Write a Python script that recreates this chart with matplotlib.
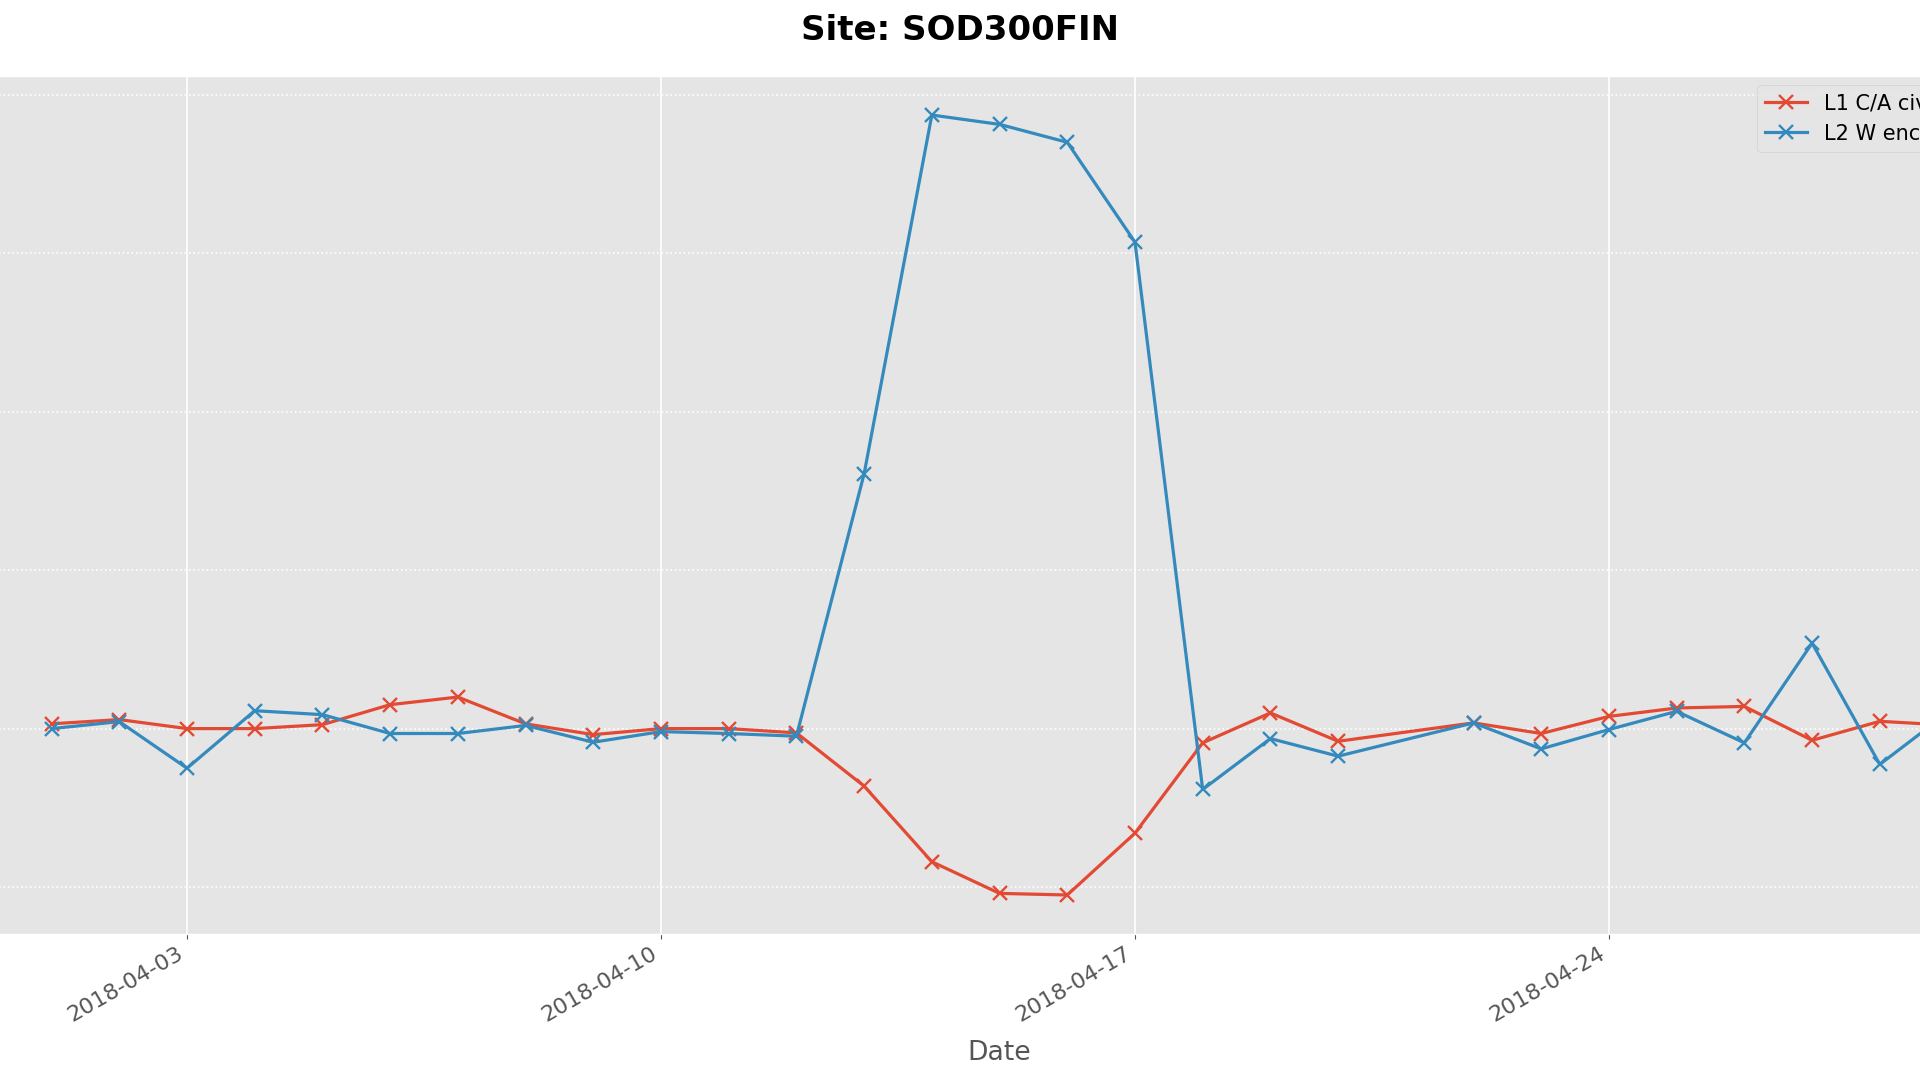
import pandas as pd
import matplotlib
matplotlib.use("Agg")
import matplotlib.pyplot as plt
import matplotlib.dates as mdates

# ================================
# DATA
# ================================
dates = pd.to_datetime([
    "2018-04-01", "2018-04-02", "2018-04-03", "2018-04-04", "2018-04-05",
    "2018-04-06", "2018-04-07", "2018-04-08", "2018-04-09", "2018-04-10",
    "2018-04-11", "2018-04-12", "2018-04-13", "2018-04-14", "2018-04-15",
    "2018-04-16", "2018-04-17", "2018-04-18", "2018-04-19", "2018-04-20",
    "2018-04-22", "2018-04-23", "2018-04-24", "2018-04-25", "2018-04-26",
    "2018-04-27", "2018-04-28", "2018-04-29",
])

l1_ca = [0.03, 0.057, 0.0, 0.0, 0.025, 0.151, 0.199, 0.03, -0.038, 0.0,
         0.0, -0.027, -0.363, -0.84, -1.04, -1.05, -0.66, -0.09, 0.099, -0.08,
         0.036, -0.031, 0.077, 0.13, 0.14, -0.074, 0.046, 0.022]

l2_w = [0.0, 0.044, -0.25, 0.113, 0.088, -0.031, -0.031, 0.02, -0.086, -0.019,
        -0.031, -0.048, 1.608, 3.872, 3.813, 3.70, 3.07, -0.384, -0.063, -0.174,
        0.036, -0.128, -0.006, 0.109, -0.09, 0.539, -0.226, 0.10]

labels = ["L1 C/A civilian", "L2 W encrypted"]
site = "SOD300FIN"

# ================================
# PLOT
# ================================
plt.style.use("ggplot")
plt.rcParams["font.size"] = 16

fig = plt.figure(figsize=(19.2, 10.8), dpi=100)
# axes run past the left and right edges of the canvas, as in the reference
ax = fig.add_axes([-0.0225, 0.1352, 1.0862, 0.7944])

ax.plot(dates, l1_ca, marker="x", color="#E24A33", lw=2.3, ms=10, mew=1.7, label=labels[0])
ax.plot(dates, l2_w, marker="x", color="#348ABD", lw=2.3, ms=10, mew=1.7, label=labels[1])

ax.xaxis.set_major_locator(mdates.DayLocator(bymonthday=[3, 10, 17, 24]))
ax.xaxis.set_major_formatter(mdates.DateFormatter("%Y-%m-%d"))
for lbl in ax.get_xticklabels():
    lbl.set_rotation(30)
    lbl.set_ha("right")

# y tick labels sit off the canvas in the reference, so none are drawn
ax.set_yticks([-1, 0, 1, 2, 3, 4])
ax.set_yticklabels([])
ax.tick_params(axis="y", length=0)
ax.xaxis.grid(True, color="white", linestyle="-", linewidth=1.2)
ax.yaxis.grid(True, color="white", linestyle=":", linewidth=1.2)
ax.set_xlabel("Date", fontsize=19.2, color="#555555", labelpad=10)

ax.legend(loc="upper left", bbox_to_anchor=(1757 / 1920, 1 - 85 / 1080),
          bbox_transform=fig.transFigure, borderaxespad=0, fontsize=15)

fig.suptitle(f"Site: {site}", fontsize=24.5, fontweight="bold", y=1 - 14 / 1080, va="top")

fig.savefig("out.png", dpi=100)
